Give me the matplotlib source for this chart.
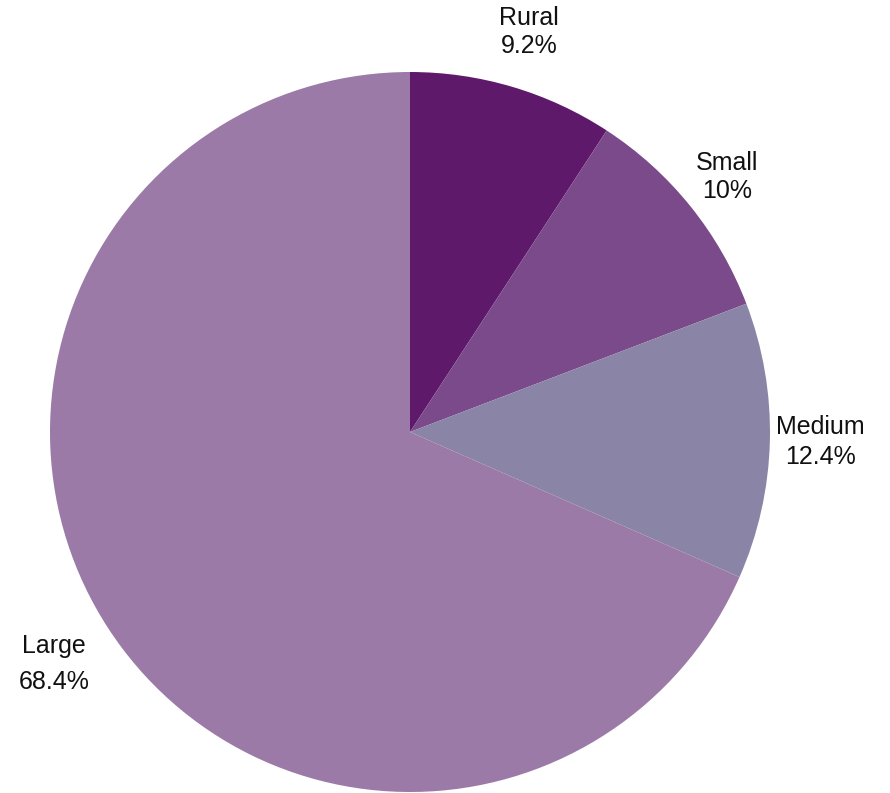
import numpy as np
from matplotlib import pyplot as plt

# 各类学校占比
categories = ['Rural', 'Small', 'Medium', 'Large']
shares = [9.2, 10, 12.4, 68.4]
share_labels = ['9.2%', '10%', '12.4%', '68.4%']
colors = ['#5F196A', '#7B4A8A', '#8A84A6', '#9B7AA8']

# 标签离圆心的距离和行距
label_dist = [1.16, 1.13, 1.14, 1.18]
line_gap = [1.2, 1.2, 1.3, 1.65]

plt.rcParams['font.family'] = ['Liberation Sans', 'DejaVu Sans']

fig = plt.figure(figsize=(8.9, 7.93), dpi=100)
ax = fig.add_axes([50 / 890, 1 / 793, 720 / 890, 720 / 793])

wedges, _ = ax.pie(shares, colors=colors, startangle=90, counterclock=False,
                   radius=1, wedgeprops=dict(linewidth=0))

for w, name, pct, d, ls in zip(wedges, categories, share_labels, label_dist, line_gap):
    mid = np.deg2rad((w.theta1 + w.theta2) / 2)
    ax.text(d * np.cos(mid), d * np.sin(mid), name + '\n' + pct,
            ha='center', va='center', fontsize=18, linespacing=ls, color='#111111')

ax.set_xlim(-1, 1)
ax.set_ylim(-1, 1)
ax.set_aspect('equal')
ax.axis('off')

plt.savefig('out.png', dpi=100)
